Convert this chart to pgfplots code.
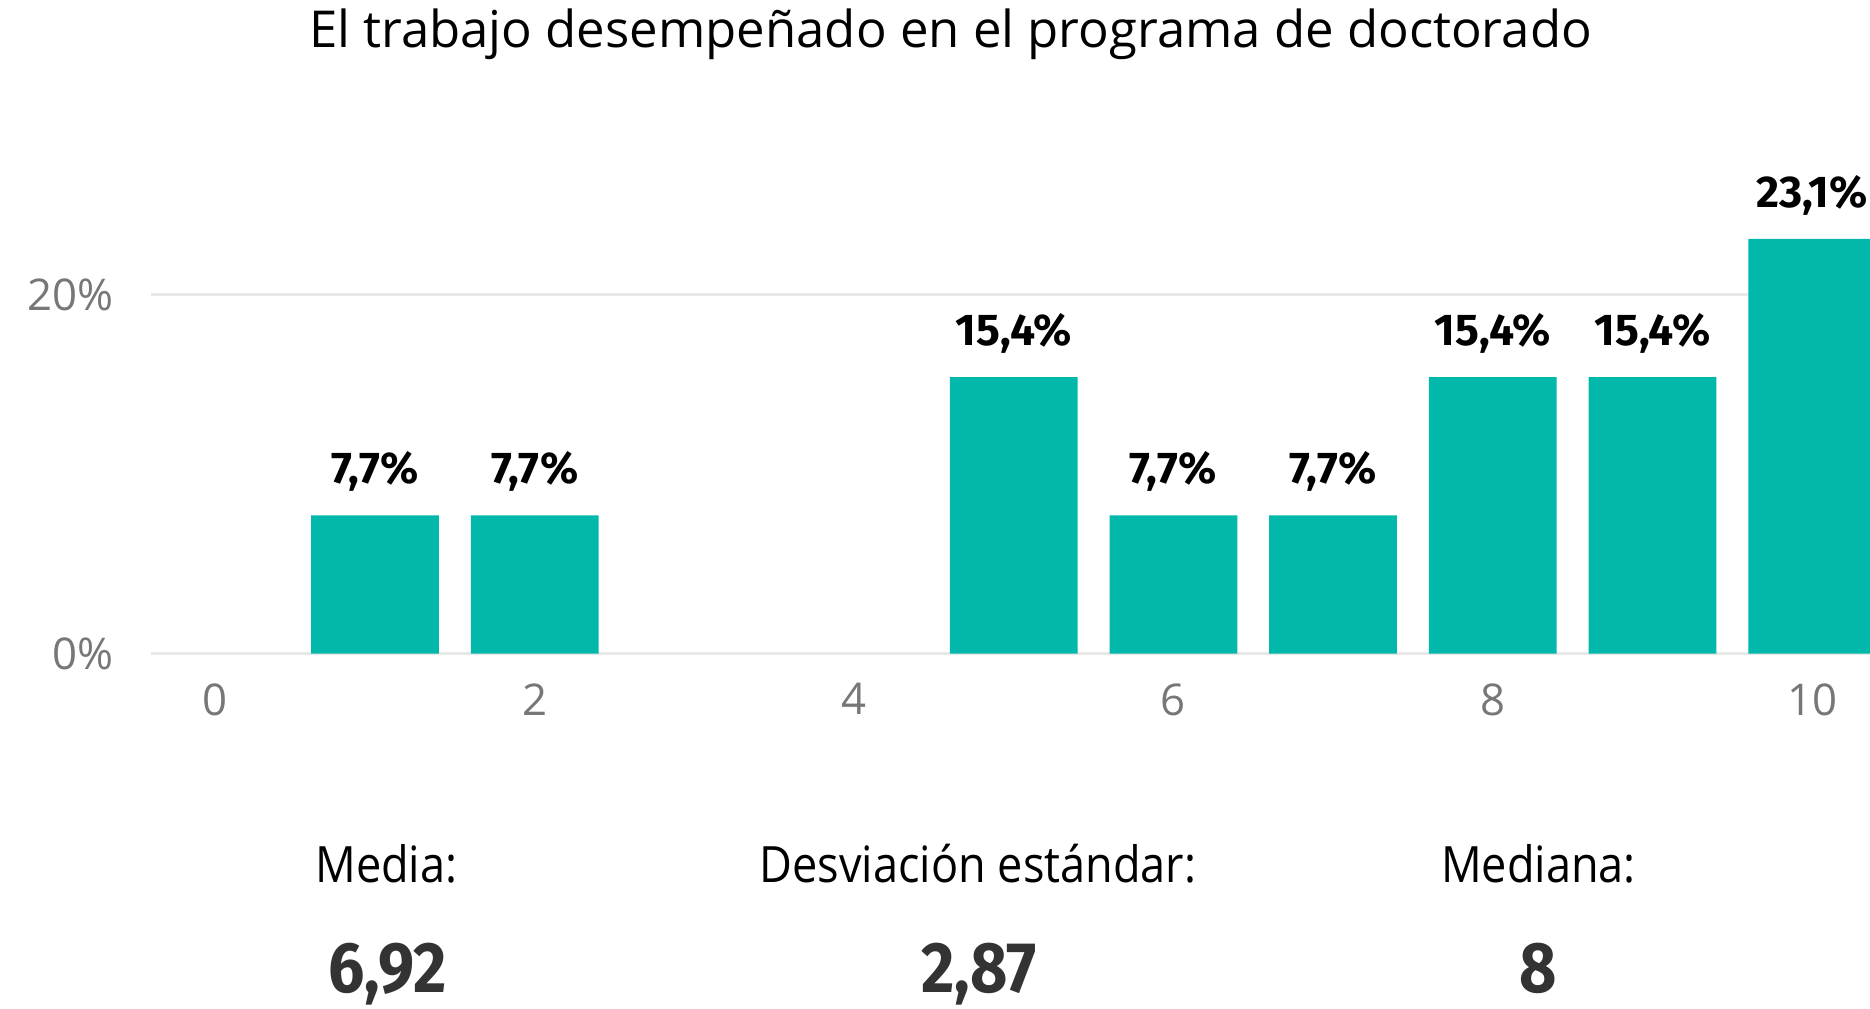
\documentclass[border=0pt]{standalone}
\usepackage{fontspec}
\setmainfont{Open Sans}
\newfontfamily\statfont[FakeStretch=0.9]{Open Sans}
\newfontfamily\valfont[FakeStretch=0.9]{Fira Sans}
\newfontfamily\lblfont{Fira Sans}
\usepackage{pgfplots}
\pgfplotsset{compat=1.18}
\definecolor{barteal}{RGB}{2,184,170}
\definecolor{gridgray}{RGB}{232,232,232}
\definecolor{tickgray}{RGB}{119,119,119}
\definecolor{valgray}{RGB}{51,51,51}
\begin{document}
\begin{tikzpicture}
\useasboundingbox (0,0) rectangle (470.4pt,253.8pt);
\begin{axis}[
  at={(38.1pt,89.4pt)}, anchor=south west,
  scale only axis, width=433.8pt, height=112.875pt,
  xmin=-0.4, xmax=10.4, ymin=0, ymax=25,
  axis line style={draw=none},
  clip=false,
  xtick={0,2,4,6,8,10}, xticklabels={0,2,4,6,8,10},
  ytick={0,20}, yticklabels={0\%,20\%},
  major tick length=0pt,
  tick style={draw=none},
  ymajorgrids, grid style={gridgray, line width=0.9pt},
  /pgf/number format/assume math mode=true,
  tick label style={font=\fontsize{11}{13}\selectfont, text=tickgray},
  yticklabel style={xshift=-6pt},
  xticklabel style={yshift=-4pt},
  ybar, bar width=0.8,
  y filter/.expression={y==0 ? nan : y},
  nodes near coords={\pgfmathprintnumber[fixed,precision=1,fixed zerofill,use comma]{\pgfplotspointmeta}\%},
  every node near coord/.append style={font=\lblfont\bfseries\fontsize{11.2}{13}\selectfont, text=black, anchor=base, inner sep=0pt, yshift=8pt},
]
\addplot[fill=barteal, draw=none] coordinates {
(0,0) (1,7.7) (2,7.7) (3,0) (4,0) (5,15.4) (6,7.7) (7,7.7) (8,15.4) (9,15.4) (10,23.1)
};
\end{axis}
\node[anchor=base, font=\fontsize{12.8}{15}\selectfont] at (239.1pt,241.8pt) {El trabajo desempeñado en el programa de doctorado};
\node[anchor=base, font=\statfont\fontsize{12.6}{15}\selectfont] at (97.2pt,31.8pt) {Media:};
\node[anchor=base, font=\statfont\fontsize{12.6}{15}\selectfont] at (246pt,31.8pt) {Desviación estándar:};
\node[anchor=base, font=\statfont\fontsize{12.6}{15}\selectfont] at (387pt,31.8pt) {Mediana:};
\node[anchor=base, font=\valfont\bfseries\fontsize{18}{20}\selectfont, text=valgray] at (97.5pt,4.2pt) {6,92};
\node[anchor=base, font=\valfont\bfseries\fontsize{18}{20}\selectfont, text=valgray] at (246.3pt,4.2pt) {2,87};
\node[anchor=base, font=\valfont\bfseries\fontsize{18}{20}\selectfont, text=valgray] at (387pt,4.2pt) {8};
\end{tikzpicture}
\end{document}
